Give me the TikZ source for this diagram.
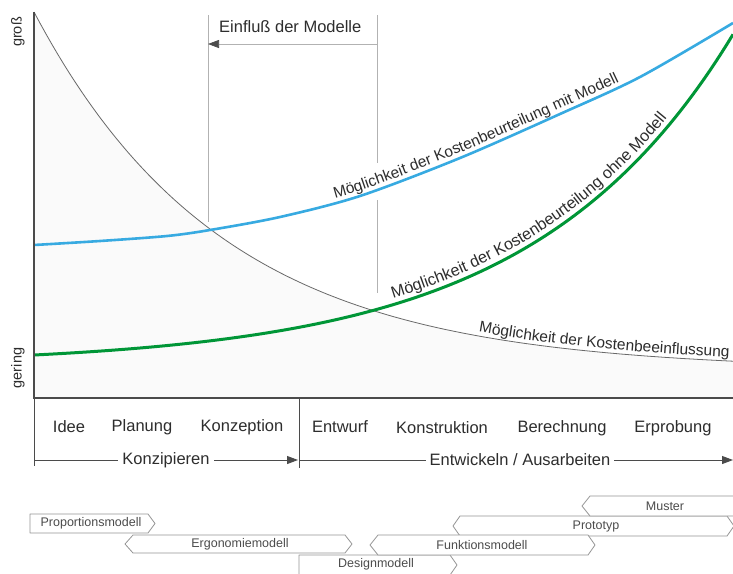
\documentclass[tikz,border=0pt]{standalone}
\usepackage{fontspec}
\setmainfont{Liberation Sans}
\usetikzlibrary{arrows.meta,decorations.text}
\definecolor{cblue}{RGB}{55,170,225}
\definecolor{cgreen}{RGB}{0,150,55}
\definecolor{cgray}{RGB}{105,105,105}
\definecolor{caxis}{RGB}{75,75,75}
\definecolor{ctext}{RGB}{45,45,45}
\definecolor{cbox}{RGB}{150,150,150}
\newcommand\curvefont{\fontsize{15.5}{18}\selectfont}
\newcommand\greencurvefont{\fontsize{16.2}{19}\selectfont}
\begin{document}
\begin{tikzpicture}[x=1pt,y=-1pt,
  lab/.style={font=\fontsize{16.5}{19}\selectfont, text=ctext, inner sep=1pt},
  modlab/.style={font=\fontsize{12.5}{14}\selectfont, text=ctext!85, inner sep=0pt},
  axislab/.style={font=\fontsize{14.5}{16}\selectfont, text=ctext, rotate=90, inner sep=0pt},
  modbox/.style={draw=cbox, fill=white, line width=0.8pt, line join=round},
  guide/.style={draw=gray!60, line width=0.7pt},
  axisline/.style={draw=caxis, line width=1.3pt},
  phaseline/.style={draw=caxis, line width=0.9pt},
]
\clip (0,0) rectangle (733,573);
\fill[white] (0,0) rectangle (733,573);

% light shading under the decreasing curve
\fill[gray!4] (34,398) -- plot[domain=34:733, samples=120] (\x, {370-358*exp(-0.0053*(\x-34))}) -- (733,398) -- cycle;

% guide lines of "Einfluss der Modelle"
\coordinate (g1t) at (208,15);
\coordinate (g1b) at (208,222);
\coordinate (g2t) at (377,15);
\coordinate (g2m) at (377,163);
\coordinate (g2n) at (377,200);
\coordinate (g2b) at (377,293);
\coordinate (g1a) at (208,44);
\coordinate (g2a) at (377,44);
\draw[guide] (g1t) -- (g1b);
\draw[guide] (g2t) -- (g2m);
\draw[guide] (g2n) -- (g2b);
\draw[guide, -{Triangle[length=11pt,width=8pt,color=caxis]}] (g2a) -- (g1a);
\node[lab, anchor=west] (einf) at (218,27) {Einfluß der Modelle};

% decreasing curve
\draw[cgray, line width=0.8pt] plot[domain=34:733, samples=120] (\x, {370-358*exp(-0.0053*(\x-34))});
\path[decorate, decoration={text along path, text={|\curvefont\color{ctext}|Möglichkeit der Kostenbeeinflussung}, text align={left indent=0pt}, raise=4pt}] plot[domain=478:760, samples=40] (\x, {370-358*exp(-0.0053*(\x-34))});

% blue curve
\draw[cblue, line width=2.6pt] plot[smooth] coordinates {(34,245) (100,241) (167,236) (210,230) (280,217) (360,196) (460,158) (560,114) (640,77) (733,23)};
\path[decorate, decoration={text along path, text={|\curvefont\color{ctext}|Möglichkeit der Kostenbeurteilung mit Modell}, text align={left indent=306pt}, raise=5pt}] plot[smooth] coordinates {(34,245) (100,241) (167,236) (210,230) (280,217) (360,196) (460,158) (560,114) (640,77) (733,23)};

% green curve
\draw[cgreen, line width=3pt] plot[domain=34:733, samples=120] (\x, {365-10*exp(0.00501*(\x-34))});
\path[decorate, decoration={text along path, text={|\greencurvefont\color{ctext}|Möglichkeit der Kostenbeurteilung ohne Modell}, text align={left indent=0pt}, raise=6pt}] plot[domain=395:760, samples=60] (\x, {365-10*exp(0.00501*(\x-34))});

% axes
\coordinate (ytop) at (34,12);
\coordinate (orig) at (34,398);
\coordinate (xend) at (733,398);
\draw[axisline] (ytop) -- (orig) -- (xend);
\node[axislab] (gross) at (18,32) {groß};
\node[axislab] (gering) at (18,368) {gering};

% phase area
\coordinate (p0b) at (34,466);
\coordinate (p1t) at (299,398);
\coordinate (p1b) at (299,468);
\coordinate (a0) at (34,460);
\coordinate (a1) at (298,460);
\coordinate (a2) at (300,460);
\coordinate (a3) at (733,460);
\draw[phaseline] (orig) -- (p0b);
\draw[phaseline] (p1t) -- (p1b);
\draw[phaseline, -{Triangle[length=11pt,width=8pt]}] (a0) -- (a1);
\draw[phaseline, -{Triangle[length=11pt,width=8pt]}] (a2) -- (a3);
\node[lab, fill=white, inner xsep=4pt] (konz) at (166,460) {Konzipieren};
\node[lab, fill=white, inner xsep=4pt] (entw) at (520,460) {Entwickeln / Ausarbeiten};

\node[lab] (idee) at (69,427) {Idee};
\node[lab] (plan) at (142,427) {Planung};
\node[lab] (konzep) at (242,427) {Konzeption};
\node[lab] (entwurf) at (340,427) {Entwurf};
\node[lab] (konstr) at (442,428) {Konstruktion};
\node[lab] (berech) at (562,428) {Berechnung};
\node[lab] (erprob) at (673,428) {Erprobung};

% model boxes
\draw[modbox] (30,514) -- (148,514) -- (155,523.5) -- (148,533) -- (30,533) -- cycle;
\node[modlab] (prop) at (91,523.5) {Proportionsmodell};
\draw[modbox] (125,544) -- (133,535) -- (345,535) -- (352,544) -- (345,553) -- (133,553) -- cycle;
\node[modlab] (ergo) at (240,544) {Ergonomiemodell};
\draw[modbox] (299,576) -- (299,555) -- (450,555) -- (457,565) -- (450,575) -- cycle;
\node[modlab] (design) at (376,564) {Designmodell};
\draw[modbox] (453,526) -- (460,516) -- (727,516) -- (734,526) -- (727,536) -- (460,536) -- cycle;
\node[modlab] (proto) at (596,526) {Prototyp};
\draw[modbox] (370,545) -- (378,535) -- (588,535) -- (595,545) -- (588,555) -- (378,555) -- cycle;
\node[modlab] (funk) at (482,545) {Funktionsmodell};
\draw[modbox] (582,506) -- (590,496) -- (745,496) -- (745,516) -- (590,516) -- cycle;
\node[modlab] (muster) at (665,506) {Muster};
\end{tikzpicture}
\end{document}
